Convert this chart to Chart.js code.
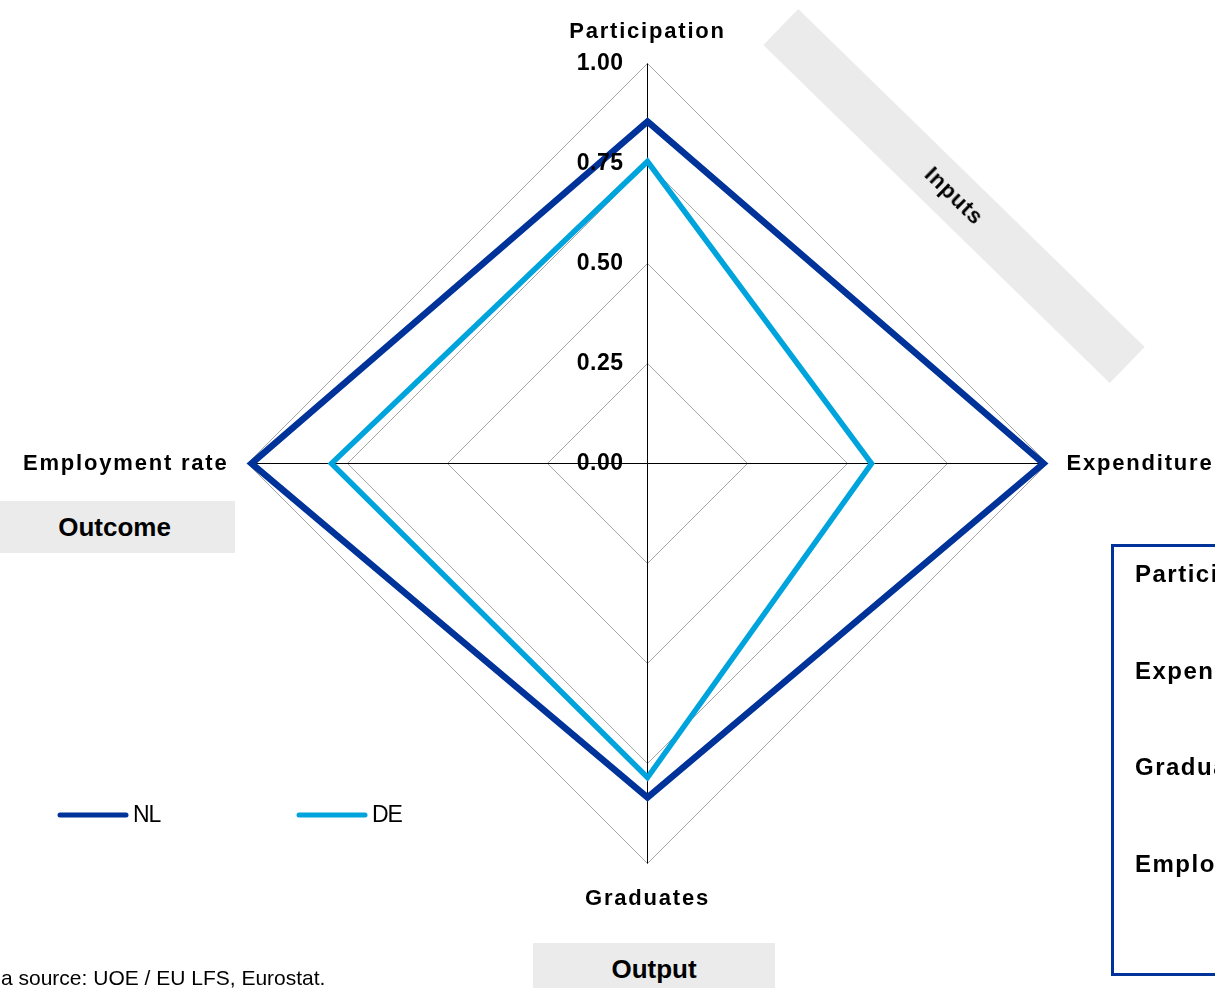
<!DOCTYPE html>
<html>
<head>
<meta charset="utf-8">
<script src="https://cdn.jsdelivr.net/npm/chart.js@4.4.1/dist/chart.umd.min.js"></script>
<style>
  html, body { margin: 0; padding: 0; background: #fff; overflow: hidden; }
  #wrap {
    position: relative; width: 1215px; height: 988px; overflow: hidden;
    font-family: "Liberation Sans", Arial, sans-serif; color: #000;
  }
  #radar { position: absolute; left: 0; top: 0; }
  .tag {
    position: absolute; background: #ebebeb; font-weight: bold; font-size: 26px;
    display: flex; align-items: center; justify-content: center;
  }
  #inputs {
    left: 712px; top: 171px; width: 484px; height: 50px;
    transform: rotate(44.3deg); font-size: 22px; letter-spacing: 1px;
  }
  #outcome { left: 0; top: 501px; width: 235px; height: 52px; padding-right: 6px; box-sizing: border-box; }
  #output { left: 533px; top: 943px; width: 242px; height: 53px; }
  #notes {
    position: absolute; left: 1111px; top: 544px; width: 400px; height: 432px;
    border: 3px solid #00339a; box-sizing: border-box;
  }
  #notes div {
    position: absolute; left: 21px; font-weight: bold; font-size: 24px;
    line-height: 26px; letter-spacing: 1.5px; white-space: nowrap;
  }
  #source { position: absolute; left: 1px; top: 967px; font-size: 21px; line-height: 22px; white-space: nowrap; }
</style>
</head>
<body>
<div id="wrap">
  <canvas id="radar" width="1215" height="988"></canvas>
  <div class="tag" id="inputs">Inputs</div>
  <div class="tag" id="outcome">Outcome</div>
  <div class="tag" id="output">Output</div>
  <div id="notes"></div>
  <div id="source">a source: UOE / EU LFS, Eurostat.</div>
</div>
<script>
const categories = ['Participation', 'Expenditure', 'Graduates', 'Employment rate'];
const nlValues = [0.855, 0.99, 0.835, 0.99];
const deValues = [0.755, 0.56, 0.785, 0.79];
const tickLabels = ['0.00', '0.25', '0.50', '0.75', '1.00'];
const seriesNames = ['NL', 'DE'];
const seriesColors = ['#00339a', '#00a4dd'];

const FONT = '"Liberation Sans", Arial, sans-serif';

// category list in the framed box on the right
const notes = document.getElementById('notes');
categories.forEach((name, i) => {
    const row = document.createElement('div');
    row.textContent = name;
    row.style.top = (14 + i * 96.5) + 'px';
    notes.appendChild(row);
});

// axis names, tick values and the legend are painted by hand
const radarText = {
    id: 'radarText',
    afterDatasetsDraw(chart) {
        const scale = chart.scales.r;
        const ctx = chart.ctx;
        ctx.save();
        ctx.fillStyle = '#000';

        ctx.font = 'bold 22px ' + FONT;
        ctx.letterSpacing = '1.8px';
        chart.data.labels.forEach((label, i) => {
            const side = scale.getPointPosition(i, 1);
            const dx = side.x - scale.xCenter;
            const dy = side.y - scale.yCenter;
            const vertical = Math.abs(dx) < 0.5;
            const gap = vertical ? (dy < 0 ? 21 : 24) : 19;
            const pos = scale.getPointPosition(i, scale.drawingArea + gap);
            ctx.textAlign = vertical ? 'center' : (dx > 0 ? 'left' : 'right');
            ctx.textBaseline = !vertical ? 'middle' : (dy < 0 ? 'bottom' : 'top');
            ctx.fillText(label, pos.x, pos.y);
        });

        ctx.font = 'bold 23px ' + FONT;
        ctx.letterSpacing = '0.5px';
        ctx.textAlign = 'right';
        ctx.textBaseline = 'middle';
        scale.ticks.forEach(t => {
            const y = scale.yCenter - scale.getDistanceFromCenterForValue(t.value);
            ctx.fillText(t.label, scale.xCenter - 24, y);
        });

        const legendX = [60, 299];
        const legendY = 815;
        ctx.font = '23px ' + FONT;
        ctx.letterSpacing = '-1px';
        ctx.textAlign = 'left';
        chart.data.datasets.forEach((ds, i) => {
            const x = legendX[i];
            ctx.beginPath();
            ctx.lineWidth = 5;
            ctx.lineCap = 'round';
            ctx.strokeStyle = ds.borderColor;
            ctx.moveTo(x, legendY);
            ctx.lineTo(x + 66, legendY);
            ctx.stroke();
            ctx.fillText(ds.label, x + 73, legendY + 1);
        });
        ctx.restore();
    }
};

new Chart(document.getElementById('radar'), {
    type: 'radar',
    data: {
        labels: categories,
        datasets: [
            { label: seriesNames[0], data: nlValues, borderColor: seriesColors[0], borderWidth: 6.5 },
            { label: seriesNames[1], data: deValues, borderColor: seriesColors[1], borderWidth: 5.5 }
        ]
    },
    options: {
        responsive: false,
        animation: false,
        layout: { padding: { left: 247, right: 168, top: 63, bottom: 125 } },
        elements: {
            point: { radius: 0, hoverRadius: 0 },
            line: { tension: 0, fill: false, borderJoinStyle: 'miter' }
        },
        plugins: { legend: { display: false }, tooltip: { enabled: false } },
        scales: {
            r: {
                min: 0,
                max: 1,
                // keep the axis spokes on the pixel grid so they stay sharp
                afterFit: (scale) => {
                    scale.xCenter += 0.5;
                    scale.yCenter += 0.5;
                },
                ticks: {
                    stepSize: 0.25,
                    display: false,
                    callback: (value, index) => tickLabels[index]
                },
                pointLabels: { display: false },
                grid: { color: '#a6a6a6', lineWidth: 1 },
                angleLines: { color: '#000', lineWidth: 1 }
            }
        }
    },
    plugins: [radarText]
});
</script>
</body>
</html>
